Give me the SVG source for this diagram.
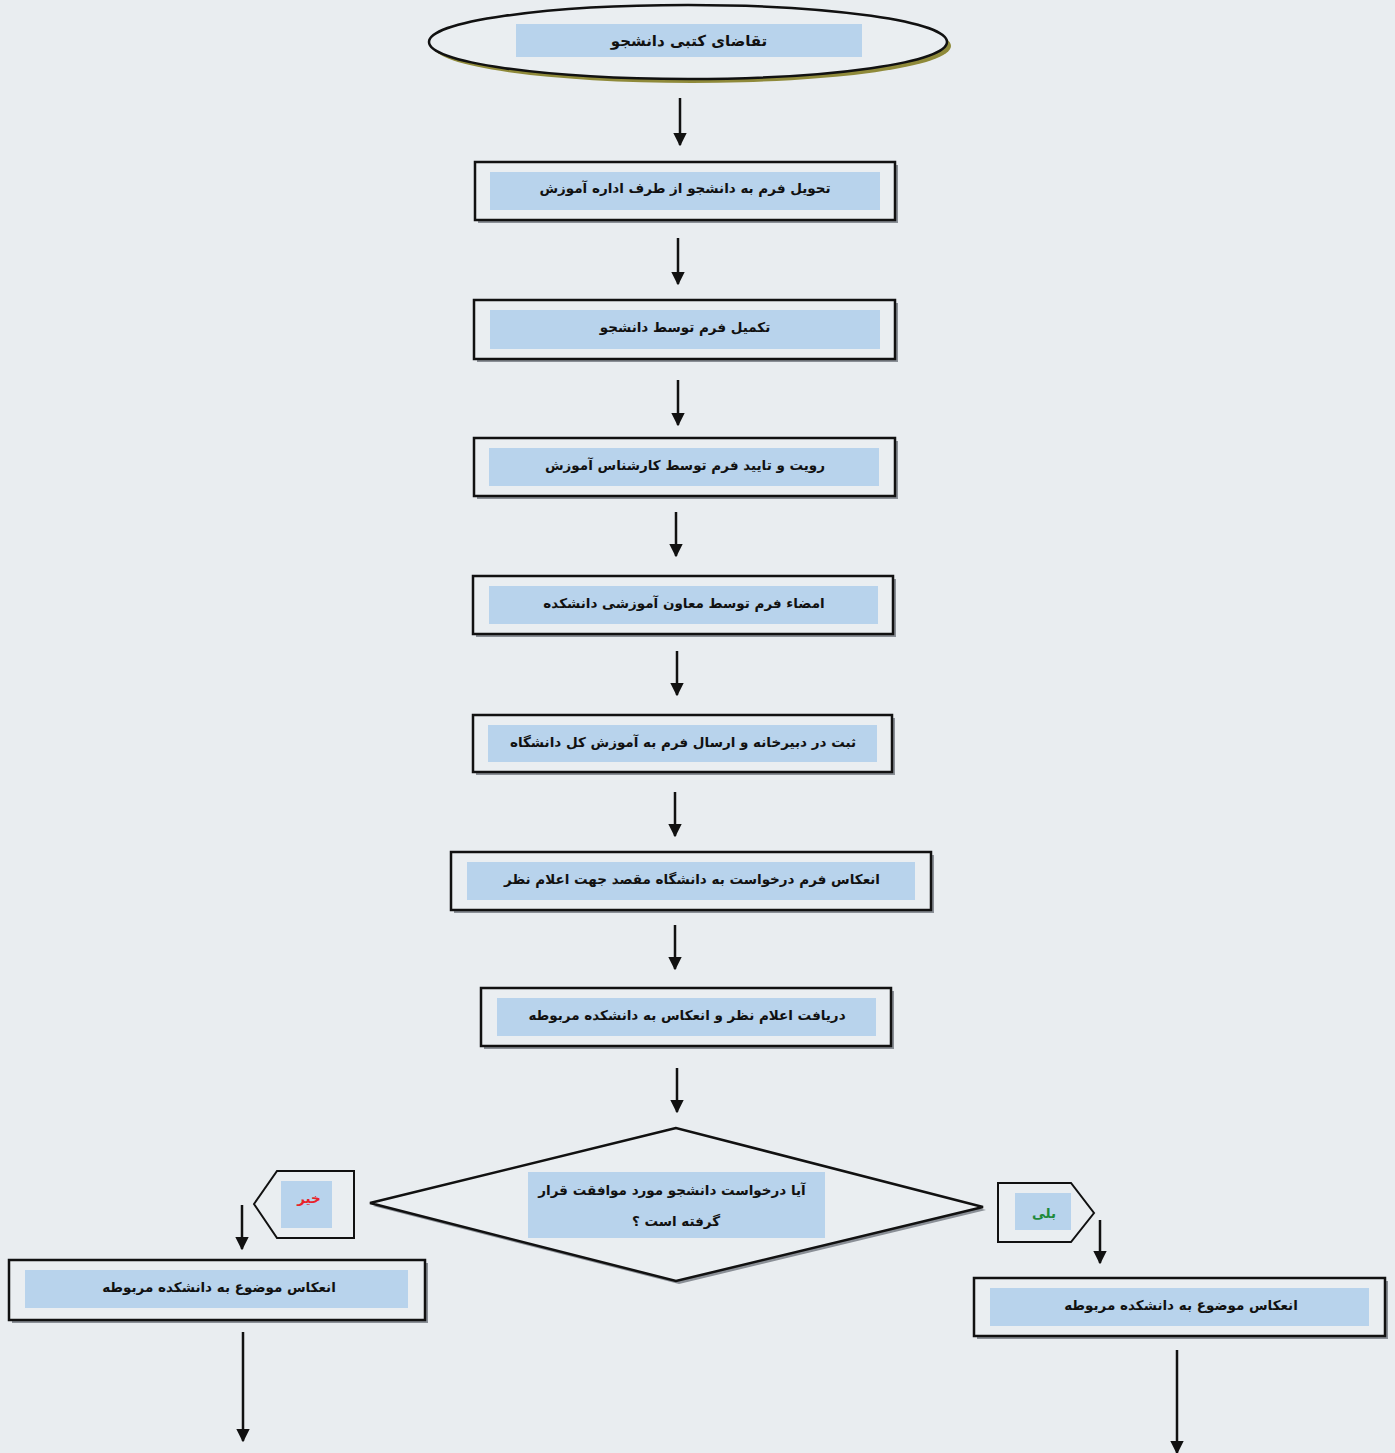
<svg xmlns="http://www.w3.org/2000/svg" width="1395" height="1453" viewBox="0 0 1395 1453">
<defs>
<style>
.bg{fill:#e9edf0}
.box{fill:#eaeef1;stroke:#111;stroke-width:2.5}
.sh{fill:#8a8f96}
.in{fill:#b8d3ec}
.t{font-family:"DejaVu Sans",sans-serif;font-weight:bold;font-size:13.5px;fill:#111;text-anchor:middle;dominant-baseline:central}
.ln{stroke:#111;stroke-width:2.5;fill:none}
</style>
<marker id="ah" viewBox="0 0 10 10" refX="9" refY="5" markerWidth="5.5" markerHeight="5.5" orient="auto" markerUnits="strokeWidth">
<path d="M0,0 L10,5 L0,10 z" fill="#111"/>
</marker>
</defs>
<rect class="bg" x="0" y="0" width="1395" height="1453"/>

<g id="start">
<ellipse cx="692" cy="46" rx="259" ry="37" fill="#8f8a3a"/>
<ellipse cx="688" cy="42" rx="259" ry="37" fill="#eaeef1" stroke="#111" stroke-width="2.5"/>
<rect class="in" x="516" y="24" width="346" height="33"/>
<text class="t" x="689" y="41" style="font-size:15px">تقاضای کتبی دانشجو</text>
</g>

<g id="n1">
<rect class="sh" x="478" y="165" width="420" height="58"/>
<rect class="box" x="475" y="162" width="420" height="58"/>
<rect class="in" x="490" y="172" width="390" height="38"/>
<text class="t" x="685" y="188">تحویل فرم به دانشجو از طرف اداره آموزش</text>
</g>

<g id="n2">
<rect class="sh" x="477" y="303" width="421" height="59"/>
<rect class="box" x="474" y="300" width="421" height="59"/>
<rect class="in" x="490" y="310" width="390" height="39"/>
<text class="t" x="685" y="327">تکمیل فرم توسط دانشجو</text>
</g>

<g id="n3">
<rect class="sh" x="477" y="441" width="421" height="58"/>
<rect class="box" x="474" y="438" width="421" height="58"/>
<rect class="in" x="489" y="448" width="390" height="38"/>
<text class="t" x="685" y="465">رویت و تایید  فرم توسط کارشناس آموزش</text>
</g>

<g id="n4">
<rect class="sh" x="476" y="579" width="420" height="58"/>
<rect class="box" x="473" y="576" width="420" height="58"/>
<rect class="in" x="489" y="586" width="389" height="38"/>
<text class="t" x="684" y="603">امضاء فرم توسط معاون آموزشی دانشکده</text>
</g>

<g id="n5">
<rect class="sh" x="476" y="718" width="419" height="57"/>
<rect class="box" x="473" y="715" width="419" height="57"/>
<rect class="in" x="488" y="725" width="389" height="37"/>
<text class="t" x="683" y="742">ثبت در دبیرخانه و ارسال  فرم به آموزش کل دانشگاه</text>
</g>

<g id="n6">
<rect class="sh" x="454" y="855" width="480" height="58"/>
<rect class="box" x="451" y="852" width="480" height="58"/>
<rect class="in" x="467" y="862" width="448" height="38"/>
<text class="t" x="692" y="879">انعکاس  فرم درخواست به دانشگاه مقصد جهت اعلام نظر</text>
</g>

<g id="n7">
<rect class="sh" x="484" y="991" width="410" height="58"/>
<rect class="box" x="481" y="988" width="410" height="58"/>
<rect class="in" x="497" y="998" width="379" height="38"/>
<text class="t" x="687" y="1015">دریافت اعلام نظر و انعکاس به دانشکده مربوطه</text>
</g>

<g id="decision">
<polygon points="679,1131 373,1206 679,1284 986,1210" fill="#8a8f96"/>
<polygon points="676,1128 370,1203 676,1281 983,1207" fill="#eaeef1" stroke="#111" stroke-width="2.5" stroke-linejoin="miter"/>
<rect class="in" x="528" y="1172" width="297" height="66"/>
<text class="t" x="672" y="1190">آیا درخواست دانشجو مورد موافقت قرار</text>
<text class="t" x="676" y="1221">گرفته است ؟</text>
</g>

<g id="no">
<polygon points="254,1204 277,1171 354,1171 354,1238 277,1238" fill="#eaeef1" stroke="#111" stroke-width="2"/>
<rect class="in" x="281" y="1181" width="51" height="47"/>
<text class="t" x="309" y="1198" style="fill:#e8232a">خیر</text>
</g>

<g id="yes">
<polygon points="998,1183 1071,1183 1094,1213 1071,1242 998,1242" fill="#eaeef1" stroke="#111" stroke-width="2"/>
<rect class="in" x="1015" y="1193" width="56" height="37"/>
<text class="t" x="1044" y="1213" style="fill:#1f8a3c">بلی</text>
</g>

<g id="n8">
<rect class="sh" x="12" y="1263" width="416" height="60"/>
<rect class="box" x="9" y="1260" width="416" height="60"/>
<rect class="in" x="25" y="1270" width="383" height="38"/>
<text class="t" x="219" y="1287">انعکاس موضوع به دانشکده مربوطه</text>
</g>

<g id="n9">
<rect class="sh" x="977" y="1281" width="411" height="58"/>
<rect class="box" x="974" y="1278" width="411" height="58"/>
<rect class="in" x="990" y="1288" width="379" height="38"/>
<text class="t" x="1181" y="1305">انعکاس موضوع به دانشکده مربوطه</text>
</g>

<g id="connectors">
<line class="ln" x1="680" y1="98" x2="680" y2="145" marker-end="url(#ah)"/>
<line class="ln" x1="678" y1="238" x2="678" y2="284" marker-end="url(#ah)"/>
<line class="ln" x1="678" y1="380" x2="678" y2="425" marker-end="url(#ah)"/>
<line class="ln" x1="676" y1="512" x2="676" y2="556" marker-end="url(#ah)"/>
<line class="ln" x1="677" y1="651" x2="677" y2="695" marker-end="url(#ah)"/>
<line class="ln" x1="675" y1="792" x2="675" y2="836" marker-end="url(#ah)"/>
<line class="ln" x1="675" y1="925" x2="675" y2="969" marker-end="url(#ah)"/>
<line class="ln" x1="677" y1="1068" x2="677" y2="1112" marker-end="url(#ah)"/>
<line class="ln" x1="242" y1="1205" x2="242" y2="1249" marker-end="url(#ah)"/>
<line class="ln" x1="1100" y1="1220" x2="1100" y2="1263" marker-end="url(#ah)"/>
<line class="ln" x1="243" y1="1332" x2="243" y2="1441" marker-end="url(#ah)"/>
<line class="ln" x1="1177" y1="1350" x2="1177" y2="1453" marker-end="url(#ah)"/>
</g>
</svg>
